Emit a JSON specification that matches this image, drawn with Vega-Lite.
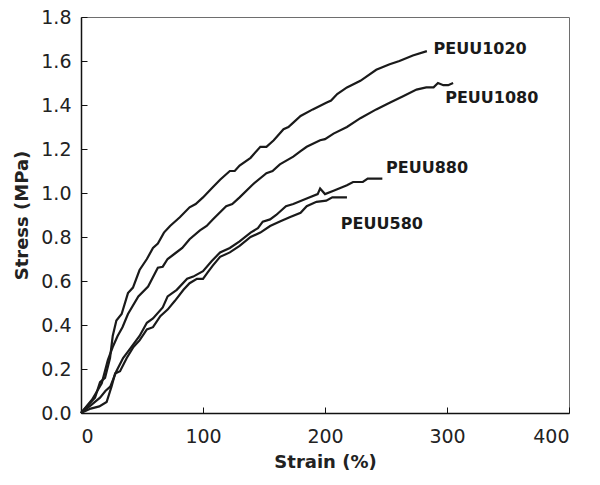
{
  "$schema": "https://vega.github.io/schema/vega-lite/v6.json",
  "width": 488,
  "height": 396,
  "autosize": "none",
  "padding": {"left": 81, "top": 17, "right": 31, "bottom": 72},
  "background": "white",
  "config": {
    "view": {"stroke": "#6e6e6e", "strokeWidth": 1},
    "axis": {
      "grid": false,
      "domainColor": "#111111",
      "domainWidth": 1.5,
      "tickColor": "#111111",
      "tickWidth": 1,
      "tickSize": -6,
      "labelFont": "DejaVu Sans",
      "labelFontSize": 19,
      "labelColor": "#222222",
      "titleFont": "DejaVu Sans",
      "titleFontSize": 18,
      "titleFontWeight": "bold",
      "titleColor": "#222222"
    }
  },
  "datasets": {
    "curves": [
      {"series": "PEUU1020", "strain": 0, "stress": 0},
      {"series": "PEUU1020", "strain": 7.4, "stress": 0.045},
      {"series": "PEUU1020", "strain": 11.5, "stress": 0.07},
      {"series": "PEUU1020", "strain": 15.6, "stress": 0.14},
      {"series": "PEUU1020", "strain": 19.7, "stress": 0.16},
      {"series": "PEUU1020", "strain": 23.8, "stress": 0.25},
      {"series": "PEUU1020", "strain": 26, "stress": 0.35},
      {"series": "PEUU1020", "strain": 29, "stress": 0.42},
      {"series": "PEUU1020", "strain": 33.3, "stress": 0.45},
      {"series": "PEUU1020", "strain": 38.5, "stress": 0.545},
      {"series": "PEUU1020", "strain": 42.6, "stress": 0.57},
      {"series": "PEUU1020", "strain": 48, "stress": 0.65},
      {"series": "PEUU1020", "strain": 54, "stress": 0.7},
      {"series": "PEUU1020", "strain": 59, "stress": 0.75},
      {"series": "PEUU1020", "strain": 63, "stress": 0.77},
      {"series": "PEUU1020", "strain": 68, "stress": 0.82},
      {"series": "PEUU1020", "strain": 73, "stress": 0.85},
      {"series": "PEUU1020", "strain": 81, "stress": 0.89},
      {"series": "PEUU1020", "strain": 89, "stress": 0.935},
      {"series": "PEUU1020", "strain": 94, "stress": 0.95},
      {"series": "PEUU1020", "strain": 100, "stress": 0.98},
      {"series": "PEUU1020", "strain": 107, "stress": 1.02},
      {"series": "PEUU1020", "strain": 114, "stress": 1.06},
      {"series": "PEUU1020", "strain": 122, "stress": 1.1},
      {"series": "PEUU1020", "strain": 126, "stress": 1.1},
      {"series": "PEUU1020", "strain": 130, "stress": 1.125},
      {"series": "PEUU1020", "strain": 139, "stress": 1.16},
      {"series": "PEUU1020", "strain": 147, "stress": 1.21},
      {"series": "PEUU1020", "strain": 152, "stress": 1.21},
      {"series": "PEUU1020", "strain": 158, "stress": 1.24},
      {"series": "PEUU1020", "strain": 166, "stress": 1.29},
      {"series": "PEUU1020", "strain": 170, "stress": 1.3},
      {"series": "PEUU1020", "strain": 174, "stress": 1.32},
      {"series": "PEUU1020", "strain": 180, "stress": 1.35},
      {"series": "PEUU1020", "strain": 190, "stress": 1.38},
      {"series": "PEUU1020", "strain": 201, "stress": 1.41},
      {"series": "PEUU1020", "strain": 205, "stress": 1.42},
      {"series": "PEUU1020", "strain": 210, "stress": 1.45},
      {"series": "PEUU1020", "strain": 218, "stress": 1.48},
      {"series": "PEUU1020", "strain": 229, "stress": 1.51},
      {"series": "PEUU1020", "strain": 242, "stress": 1.56},
      {"series": "PEUU1020", "strain": 253, "stress": 1.585},
      {"series": "PEUU1020", "strain": 261, "stress": 1.6},
      {"series": "PEUU1020", "strain": 272, "stress": 1.625},
      {"series": "PEUU1020", "strain": 283.5, "stress": 1.645},

      {"series": "PEUU1080", "strain": 0, "stress": 0},
      {"series": "PEUU1080", "strain": 9, "stress": 0.06},
      {"series": "PEUU1080", "strain": 17, "stress": 0.135},
      {"series": "PEUU1080", "strain": 22, "stress": 0.24},
      {"series": "PEUU1080", "strain": 26, "stress": 0.3},
      {"series": "PEUU1080", "strain": 30, "stress": 0.35},
      {"series": "PEUU1080", "strain": 34, "stress": 0.39},
      {"series": "PEUU1080", "strain": 38.5, "stress": 0.45},
      {"series": "PEUU1080", "strain": 47, "stress": 0.53},
      {"series": "PEUU1080", "strain": 55, "stress": 0.575},
      {"series": "PEUU1080", "strain": 63, "stress": 0.66},
      {"series": "PEUU1080", "strain": 67, "stress": 0.665},
      {"series": "PEUU1080", "strain": 71, "stress": 0.7},
      {"series": "PEUU1080", "strain": 77, "stress": 0.725},
      {"series": "PEUU1080", "strain": 83, "stress": 0.75},
      {"series": "PEUU1080", "strain": 89, "stress": 0.79},
      {"series": "PEUU1080", "strain": 97.5, "stress": 0.83},
      {"series": "PEUU1080", "strain": 103, "stress": 0.85},
      {"series": "PEUU1080", "strain": 108, "stress": 0.88},
      {"series": "PEUU1080", "strain": 119, "stress": 0.94},
      {"series": "PEUU1080", "strain": 124, "stress": 0.95},
      {"series": "PEUU1080", "strain": 130, "stress": 0.98},
      {"series": "PEUU1080", "strain": 141, "stress": 1.04},
      {"series": "PEUU1080", "strain": 152, "stress": 1.09},
      {"series": "PEUU1080", "strain": 157, "stress": 1.1},
      {"series": "PEUU1080", "strain": 163, "stress": 1.13},
      {"series": "PEUU1080", "strain": 174, "stress": 1.165},
      {"series": "PEUU1080", "strain": 180, "stress": 1.19},
      {"series": "PEUU1080", "strain": 185, "stress": 1.21},
      {"series": "PEUU1080", "strain": 196, "stress": 1.24},
      {"series": "PEUU1080", "strain": 200, "stress": 1.245},
      {"series": "PEUU1080", "strain": 207, "stress": 1.27},
      {"series": "PEUU1080", "strain": 218, "stress": 1.3},
      {"series": "PEUU1080", "strain": 229, "stress": 1.34},
      {"series": "PEUU1080", "strain": 242, "stress": 1.38},
      {"series": "PEUU1080", "strain": 253, "stress": 1.41},
      {"series": "PEUU1080", "strain": 264, "stress": 1.44},
      {"series": "PEUU1080", "strain": 275, "stress": 1.47},
      {"series": "PEUU1080", "strain": 283, "stress": 1.48},
      {"series": "PEUU1080", "strain": 289, "stress": 1.48},
      {"series": "PEUU1080", "strain": 292.6, "stress": 1.5},
      {"series": "PEUU1080", "strain": 297, "stress": 1.49},
      {"series": "PEUU1080", "strain": 301, "stress": 1.49},
      {"series": "PEUU1080", "strain": 305, "stress": 1.5},

      {"series": "PEUU880", "strain": 0, "stress": 0},
      {"series": "PEUU880", "strain": 7, "stress": 0.03},
      {"series": "PEUU880", "strain": 15.6, "stress": 0.07},
      {"series": "PEUU880", "strain": 20, "stress": 0.1},
      {"series": "PEUU880", "strain": 24, "stress": 0.12},
      {"series": "PEUU880", "strain": 29, "stress": 0.19},
      {"series": "PEUU880", "strain": 34.5, "stress": 0.25},
      {"series": "PEUU880", "strain": 40, "stress": 0.29},
      {"series": "PEUU880", "strain": 48, "stress": 0.35},
      {"series": "PEUU880", "strain": 54, "stress": 0.41},
      {"series": "PEUU880", "strain": 59, "stress": 0.43},
      {"series": "PEUU880", "strain": 67, "stress": 0.48},
      {"series": "PEUU880", "strain": 71, "stress": 0.53},
      {"series": "PEUU880", "strain": 78.5, "stress": 0.56},
      {"series": "PEUU880", "strain": 87, "stress": 0.61},
      {"series": "PEUU880", "strain": 92, "stress": 0.62},
      {"series": "PEUU880", "strain": 100, "stress": 0.645},
      {"series": "PEUU880", "strain": 107, "stress": 0.69},
      {"series": "PEUU880", "strain": 114, "stress": 0.73},
      {"series": "PEUU880", "strain": 122, "stress": 0.75},
      {"series": "PEUU880", "strain": 130, "stress": 0.78},
      {"series": "PEUU880", "strain": 139, "stress": 0.82},
      {"series": "PEUU880", "strain": 145, "stress": 0.84},
      {"series": "PEUU880", "strain": 149, "stress": 0.87},
      {"series": "PEUU880", "strain": 155, "stress": 0.88},
      {"series": "PEUU880", "strain": 160, "stress": 0.9},
      {"series": "PEUU880", "strain": 168, "stress": 0.94},
      {"series": "PEUU880", "strain": 174, "stress": 0.95},
      {"series": "PEUU880", "strain": 185, "stress": 0.975},
      {"series": "PEUU880", "strain": 194, "stress": 0.995},
      {"series": "PEUU880", "strain": 196, "stress": 1.02},
      {"series": "PEUU880", "strain": 200, "stress": 0.995},
      {"series": "PEUU880", "strain": 207, "stress": 1.01},
      {"series": "PEUU880", "strain": 218, "stress": 1.035},
      {"series": "PEUU880", "strain": 223, "stress": 1.05},
      {"series": "PEUU880", "strain": 231, "stress": 1.05},
      {"series": "PEUU880", "strain": 235, "stress": 1.065},
      {"series": "PEUU880", "strain": 247, "stress": 1.065},

      {"series": "PEUU580", "strain": 0, "stress": 0},
      {"series": "PEUU580", "strain": 8, "stress": 0.02},
      {"series": "PEUU580", "strain": 15, "stress": 0.03},
      {"series": "PEUU580", "strain": 21, "stress": 0.05},
      {"series": "PEUU580", "strain": 25, "stress": 0.12},
      {"series": "PEUU580", "strain": 28, "stress": 0.18},
      {"series": "PEUU580", "strain": 32, "stress": 0.19},
      {"series": "PEUU580", "strain": 37.5, "stress": 0.25},
      {"series": "PEUU580", "strain": 43, "stress": 0.3},
      {"series": "PEUU580", "strain": 48, "stress": 0.33},
      {"series": "PEUU580", "strain": 54, "stress": 0.38},
      {"series": "PEUU580", "strain": 59, "stress": 0.39},
      {"series": "PEUU580", "strain": 65, "stress": 0.44},
      {"series": "PEUU580", "strain": 71, "stress": 0.47},
      {"series": "PEUU580", "strain": 77, "stress": 0.51},
      {"series": "PEUU580", "strain": 84, "stress": 0.56},
      {"series": "PEUU580", "strain": 89, "stress": 0.59},
      {"series": "PEUU580", "strain": 95, "stress": 0.61},
      {"series": "PEUU580", "strain": 100, "stress": 0.61},
      {"series": "PEUU580", "strain": 104, "stress": 0.64},
      {"series": "PEUU580", "strain": 108, "stress": 0.67},
      {"series": "PEUU580", "strain": 114, "stress": 0.71},
      {"series": "PEUU580", "strain": 122, "stress": 0.73},
      {"series": "PEUU580", "strain": 130, "stress": 0.76},
      {"series": "PEUU580", "strain": 139, "stress": 0.8},
      {"series": "PEUU580", "strain": 147, "stress": 0.82},
      {"series": "PEUU580", "strain": 155, "stress": 0.85},
      {"series": "PEUU580", "strain": 163, "stress": 0.87},
      {"series": "PEUU580", "strain": 171, "stress": 0.89},
      {"series": "PEUU580", "strain": 180, "stress": 0.91},
      {"series": "PEUU580", "strain": 185, "stress": 0.94},
      {"series": "PEUU580", "strain": 193, "stress": 0.96},
      {"series": "PEUU580", "strain": 201, "stress": 0.965},
      {"series": "PEUU580", "strain": 206, "stress": 0.98},
      {"series": "PEUU580", "strain": 218, "stress": 0.98}
    ],
    "labels": [
      {"label": "PEUU1020", "strain": 289, "stress": 1.655},
      {"label": "PEUU1080", "strain": 298.5, "stress": 1.43},
      {"label": "PEUU880", "strain": 250, "stress": 1.115},
      {"label": "PEUU580", "strain": 213, "stress": 0.86}
    ]
  },
  "layer": [
    {
      "data": {"name": "curves"},
      "mark": {"type": "line", "stroke": "#1a1a1a", "strokeWidth": 2.2, "interpolate": "linear"},
      "encoding": {
        "x": {
          "field": "strain", "type": "quantitative", "title": "Strain (%)",
          "scale": {"domain": [0, 400], "nice": false},
          "axis": {"values": [0, 100, 200, 300, 400], "format": "d", "labelPadding": 20, "titlePadding": 7}
        },
        "y": {
          "field": "stress", "type": "quantitative", "title": "Stress (MPa)",
          "scale": {"domain": [0, 1.8], "nice": false},
          "axis": {"values": [0, 0.2, 0.4, 0.6, 0.8, 1.0, 1.2, 1.4, 1.6, 1.8], "format": ".1f", "labelPadding": 16, "titlePadding": 9}
        },
        "detail": {"field": "series", "type": "nominal"}
      }
    },
    {
      "data": {"name": "labels"},
      "mark": {"type": "text", "align": "left", "baseline": "middle", "font": "DejaVu Sans", "fontSize": 16, "fontWeight": "bold", "color": "#1a1a1a"},
      "encoding": {
        "x": {"field": "strain", "type": "quantitative"},
        "y": {"field": "stress", "type": "quantitative"},
        "text": {"field": "label", "type": "nominal"}
      }
    }
  ]
}
